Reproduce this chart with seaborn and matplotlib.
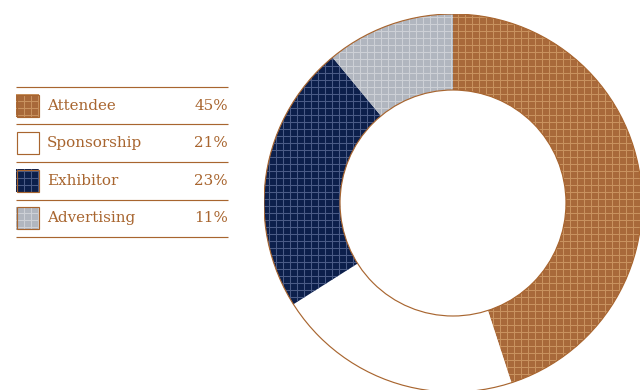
import matplotlib
matplotlib.use("Agg")
import matplotlib.pyplot as plt
from matplotlib.patches import Rectangle, Circle
import seaborn as sns

# Revenue mix
categories = ["Attendee", "Sponsorship", "Exhibitor", "Advertising"]
shares = [45, 21, 23, 11]
share_labels = ["45%", "21%", "23%", "11%"]

fill_colors = ["#a8693a", "#ffffff", "#0c1f4b", "#b1b6bf"]
grid_colors = ["#c8925f", "#ffffff", "#4a5b86", "#cdd0d6"]
has_grid = [True, False, True, True]
accent = "#a8652f"

sns.set_theme(style="white")
plt.rcParams["font.family"] = ["DejaVu Serif"]
plt.rcParams["hatch.linewidth"] = 0.9

DPI = 84
W, H = 640, 390
fig = plt.figure(figsize=(W / DPI, H / DPI), dpi=DPI)
fig.patch.set_facecolor("white")

# Donut: centre and radii in pixels
cx, cy, r_out, r_in = 453, 203, 189, 113
ax = fig.add_axes([(cx - r_out) / W, (H - cy - r_out) / H, 2 * r_out / W, 2 * r_out / H])
wedges, _ = ax.pie(
    shares,
    colors=fill_colors,
    startangle=90,
    counterclock=False,
    radius=1.0,
    wedgeprops=dict(width=1 - r_in / r_out, linewidth=0),
)
for w, gc, g in zip(wedges, grid_colors, has_grid):
    if g:
        w.set_hatch("++")
        w.set_edgecolor(gc)
        w.set_linewidth(0)
# outer and inner rims
ax.add_patch(Circle((0, 0), 1.0, fill=False, edgecolor=accent, linewidth=1.0))
ax.add_patch(Circle((0, 0), r_in / r_out, fill=False, edgecolor=accent, linewidth=1.0))
ax.set_xlim(-1, 1)
ax.set_ylim(-1, 1)
ax.set_aspect("auto")
ax.axis("off")

# Legend table on the left, in pixel coordinates
lg = fig.add_axes([0, 0, 1, 1])
lg.set_xlim(0, W)
lg.set_ylim(H, 0)
lg.axis("off")
lg.patch.set_alpha(0)

x0, x1 = 16, 228
row_top = 87
row_h = 37.5
for i, (cat, lab, fc, gc, g) in enumerate(zip(categories, share_labels, fill_colors, grid_colors, has_grid)):
    y_line = row_top + i * row_h
    lg.plot([x0, x1], [y_line, y_line], color=accent, linewidth=1.0, solid_capstyle="butt")
    yc = y_line + row_h / 2
    sw = Rectangle((x0, yc - 11.5), 23, 23, facecolor=fc,
                   edgecolor=gc if g else "none", linewidth=0,
                   hatch="++" if g else None)
    lg.add_patch(sw)
    lg.add_patch(Rectangle((x0 + 0.5, yc - 11), 22, 22, fill=False, edgecolor=accent, linewidth=1.0))
    lg.text(47, yc, cat, color=accent, fontsize=13, va="center", ha="left")
    lg.text(x1, yc, lab, color=accent, fontsize=13, va="center", ha="right")
y_last = row_top + len(categories) * row_h
lg.plot([x0, x1], [y_last, y_last], color=accent, linewidth=1.0, solid_capstyle="butt")

fig.savefig("out.png", dpi=DPI, facecolor="white")
